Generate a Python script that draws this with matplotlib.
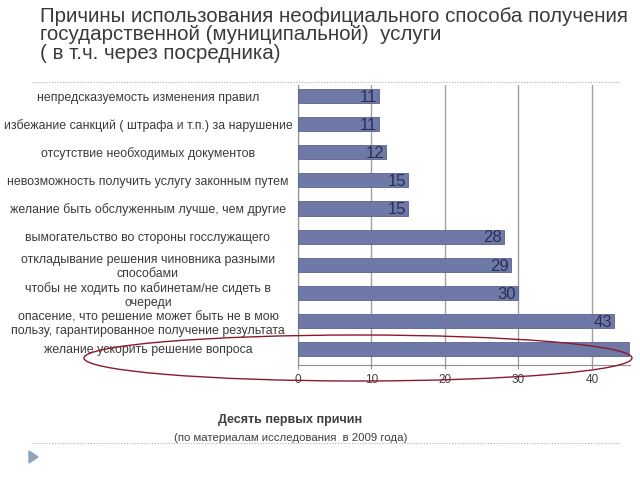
# Причины использования неофициального способа получения услуги
import matplotlib
matplotlib.use('Agg')
import matplotlib.pyplot as plt
from matplotlib.patches import Ellipse, Polygon

plt.rcParams['font.family'] = ['Liberation Sans', 'DejaVu Sans']

# данные
reasons = [
    'непредсказуемость изменения правил',
    'избежание санкций ( штрафа и т.п.) за нарушение',
    'отсутствие необходимых документов',
    'невозможность получить услугу законным путем',
    'желание быть обслуженным лучше, чем другие',
    'вымогательство во стороны госслужащего',
    'откладывание решения чиновника разными\nспособами',
    'чтобы не ходить по кабинетам/не сидеть в\nочереди',
    'опасение, что решение может быть не в мою\nпользу, гарантированное получение результата',
    'желание ускорить решение вопроса',
]
values = [11, 11, 12, 15, 15, 28, 29, 30, 43, 52]
xticks = [0, 10, 20, 30, 40]
xmax = 45.2

fig = plt.figure(figsize=(6.4, 4.8), dpi=100)
ax = fig.add_axes([0.4656, 0.2396, 0.519, 0.583])

y = list(range(len(values)))
ax.barh(y, values, height=0.5, color='#6f79a8', edgecolor='#5a6290', linewidth=0.6, zorder=3)
for yi, v in zip(y, values):
    if v > xmax:
        continue  # подпись уходит за край оси, на оригинале её не видно
    ax.text(v - 0.3, yi + 0.05, str(v), ha='right', va='center', fontsize=12,
            color='#2a2f55', zorder=4)

ax.set_xlim(0, xmax)
ax.set_ylim(9.57, -0.39)
ax.set_xticks(xticks)
ax.set_xticklabels([str(t) for t in xticks], fontsize=8.5, color='#404040')
ax.set_yticks(y)
ax.set_yticklabels(reasons, fontsize=8.9, color='#3a3a3a', ha='center', linespacing=1.2)
ax.tick_params(axis='y', length=0, pad=108)
ax.tick_params(axis='x', length=3, color='#909090')
ax.grid(axis='x', color='#a0a0a0', linewidth=1.0, zorder=0)
for s in ['top', 'right']:
    ax.spines[s].set_visible(False)
ax.spines['left'].set_color('#909090')
ax.spines['bottom'].set_color('#909090')

# заголовок
fig.text(0.0625, 0.985, 'Причины использования неофициального способа получения\n'
         'государственной (муниципальной)  услуги\n( в т.ч. через посредника)',
         ha='left', va='top', fontsize=14.8, color='#3a3a3a', linespacing=0.95)

# пунктирные линии
fig.add_artist(plt.Line2D([0.05, 0.97], [1 - 82/480] * 2, color='#b0b0b0',
                          linestyle=(0, (1, 1.5)), linewidth=0.8))
fig.add_artist(plt.Line2D([0.05, 0.97], [1 - 443/480] * 2, color='#b0b0b0',
                          linestyle=(0, (1, 1.5)), linewidth=0.8))

# эллипс вокруг последней причины
fig.add_artist(Ellipse((358/640, 1 - 358/480), 548/640, 46/480, fill=False,
                       edgecolor='#8b1a2a', linewidth=1.0))

# подпись
fig.text(290/640, 1 - 420/480, 'Десять первых причин', ha='center', va='center',
         fontsize=9, color='#404040', fontweight='bold')
fig.text(291/640, 1 - 438/480, '(по материалам исследования  в 2009 года)', ha='center',
         va='center', fontsize=8.2, color='#404040')

fig.add_artist(Polygon([[29/640, 1 - 451/480], [29/640, 1 - 463/480], [38/640, 1 - 457/480]],
                       closed=True, color='#8fa4b8', transform=fig.transFigure))

fig.savefig('out.png', dpi=100)
